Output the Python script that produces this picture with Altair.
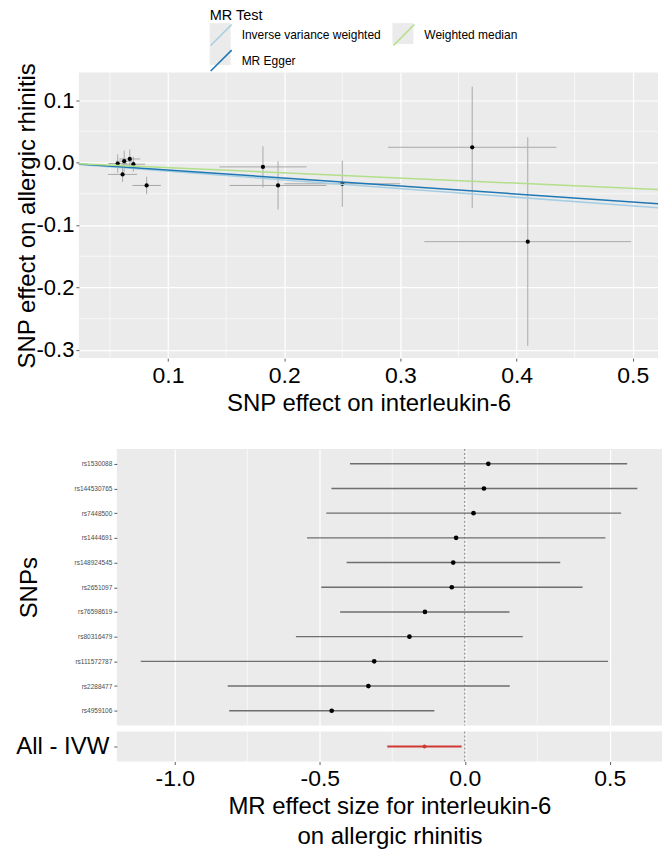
import altair as alt
import pandas as pd

FONT = "Liberation Sans"
MINUS_FIX = "replace(format(datum.value, '.1f'), '\u2212', '-')"

# ---------------- scatter plot data (per-SNP effects) ----------------
snp_beta_exposure = [0.0567, 0.0623, 0.0671, 0.0702, 0.0609, 0.0816, 0.1817, 0.1947, 0.2500, 0.3618, 0.4096]
snp_beta_outcome = [-0.0016, 0.0021, 0.0057, -0.0027, -0.0190, -0.0367, -0.0070, -0.0367, -0.0340, 0.0244, -0.1266]
snp_se_exposure = [0.0080, 0.0070, 0.0090, 0.0100, 0.0125, 0.0123, 0.0375, 0.0417, 0.0500, 0.0725, 0.0890]
snp_se_outcome = [0.0147, 0.0170, 0.0150, 0.0120, 0.0120, 0.0140, 0.0330, 0.0386, 0.0370, 0.0970, 0.1670]

# MR methods
methods = ["Inverse variance weighted", "MR Egger", "Weighted median"]
method_colors = ["#a6cee3", "#1f78b4", "#b2df8a"]
method_intercept = [0.0, 0.0008, 0.0]
method_slope = [-0.139, -0.128, -0.0826]

scatter_x_domain = [0.0233, 0.5217]
scatter_y_domain = [-0.313, 0.144]
scatter_x_ticks = [0.1, 0.2, 0.3, 0.4, 0.5]
scatter_x_minor = [0.05, 0.15, 0.25, 0.35, 0.45]
scatter_y_ticks = [-0.3, -0.2, -0.1, 0.0, 0.1]
scatter_y_minor = [-0.25, -0.15, -0.05, 0.05]

# ---------------- forest plot data ----------------
forest_snps = ["rs1530088", "rs144530765", "rs7448500", "rs1444691", "rs148924545",
               "rs2651097", "rs76598619", "rs80316479", "rs111572787", "rs2288477", "rs4959106"]
forest_b = [0.081, 0.066, 0.030, -0.030, -0.040, -0.045, -0.1375, -0.191, -0.3125, -0.3325, -0.459]
forest_lo = [-0.396, -0.460, -0.4775, -0.544, -0.4075, -0.495, -0.430, -0.5825, -1.1175, -0.8175, -0.8125]
forest_hi = [0.560, 0.595, 0.539, 0.485, 0.329, 0.406, 0.154, 0.200, 0.494, 0.155, -0.105]

ivw_label = ["All - IVW"]
ivw_b = [-0.139]
ivw_lo = [-0.2675]
ivw_hi = [-0.011]

forest_x_domain = [-1.2, 0.68]
forest_x_ticks = [-1.0, -0.5, 0.0, 0.5]
forest_x_minor = [-0.75, -0.25, 0.25]
null_effect = [0.0]

# ---------------- build tables ----------------
sc = pd.DataFrame({
    "bx": snp_beta_exposure, "by": snp_beta_outcome,
    "sx": snp_se_exposure, "sy": snp_se_outcome,
})
sc["bx_lo"] = sc.bx - sc.sx
sc["bx_hi"] = sc.bx + sc.sx
sc["by_lo"] = sc.by - sc.sy
sc["by_hi"] = sc.by + sc.sy

KEY_SUFFIX = "|key"
key_domain = [m + KEY_SUFFIX for m in methods]

line_rows = []
for m, a, b in zip(methods, method_intercept, method_slope):
    for xv in scatter_x_domain:
        line_rows.append({"method": m, "key": m + KEY_SUFFIX, "x": xv, "y": a + b * xv})
lines_df = pd.DataFrame(line_rows)

xs = alt.Scale(domain=scatter_x_domain, nice=False, zero=False)
ys = alt.Scale(domain=scatter_y_domain, nice=False, zero=False)

x_axis = alt.Axis(values=scatter_x_ticks, labelExpr=MINUS_FIX, title="SNP effect on interleukin-6",
                  labelFontSize=23, titleFontSize=24, labelPadding=3, titlePadding=4)
y_axis = alt.Axis(values=scatter_y_ticks, labelExpr=MINUS_FIX, title="SNP effect on allergic rhinitis",
                  labelFontSize=22, titleFontSize=24, labelPadding=2, titlePadding=-3)

minor_x = alt.Chart(pd.DataFrame({"v": scatter_x_minor})).mark_rule(color="white", strokeWidth=0.6).encode(
    x=alt.X("v:Q", scale=xs, axis=x_axis))
minor_y = alt.Chart(pd.DataFrame({"v": scatter_y_minor})).mark_rule(color="white", strokeWidth=0.6).encode(
    y=alt.Y("v:Q", scale=ys, axis=y_axis))

base = alt.Chart(sc)
err_y = base.mark_rule(color="#a9a9a9", strokeWidth=1).encode(
    x=alt.X("bx:Q", scale=xs), y=alt.Y("by_lo:Q", scale=ys), y2="by_hi:Q")
err_x = base.mark_rule(color="#a9a9a9", strokeWidth=1).encode(
    x=alt.X("bx_lo:Q", scale=xs), x2="bx_hi:Q", y=alt.Y("by:Q", scale=ys))
pts = base.mark_circle(color="black", size=18, opacity=1).encode(
    x=alt.X("bx:Q", scale=xs), y=alt.Y("by:Q", scale=ys))

LEG_COMMON = dict(
    title="MR Test", orient="none", legendX=199, legendY=-64, columns=2, direction="vertical",
    symbolSize=441, labelFontSize=12, titleFontSize=14.5, titleFontWeight="normal",
    labelFont=FONT, titleFont=FONT, labelOffset=9, titlePadding=0,
)

line_legend = alt.Legend(
    symbolType="M-1,1L1,-1", symbolStrokeWidth=1.6, labelColor="black", titleColor="black",
    columnPadding=8, rowPadding=-13, zindex=2, **LEG_COMMON,
)
# grey key squares drawn underneath the line legend (no label text of their own)
key_legend = alt.Legend(
    symbolType="square", symbolOpacity=1, symbolStrokeWidth=0, labelColor="transparent",
    titleColor="transparent", labelExpr="''", columnPadding=153, rowPadding=-9, zindex=1,
    **LEG_COMMON,
)

# invisible layer that only provides the grey key squares behind the legend lines
key_boxes = alt.Chart(lines_df).mark_point(opacity=0, filled=True).encode(
    x=alt.X("x:Q", scale=xs),
    y=alt.Y("y:Q", scale=ys),
    fill=alt.Fill("key:N", sort=key_domain,
                  scale=alt.Scale(domain=key_domain, range=["#ebebeb", "#ebebeb", "#ebebeb"]),
                  legend=key_legend),
)

mr_lines = alt.Chart(lines_df).mark_line(strokeWidth=1.5).encode(
    x=alt.X("x:Q", scale=xs),
    y=alt.Y("y:Q", scale=ys),
    color=alt.Color("method:N", sort=methods,
                    scale=alt.Scale(domain=methods, range=method_colors), legend=line_legend),
)

scatter = alt.layer(minor_x, minor_y, err_y, err_x, pts, key_boxes, mr_lines).properties(width=580, height=286)

# ---------------- forest plot ----------------
fd = pd.DataFrame({"snp": forest_snps, "b": forest_b, "lo": forest_lo, "hi": forest_hi})
ivd = pd.DataFrame({"snp": ivw_label, "b": ivw_b, "lo": ivw_lo, "hi": ivw_hi})

fxs = alt.Scale(domain=forest_x_domain, nice=False, zero=False)
hidden_x = alt.Axis(values=forest_x_ticks, labels=False, ticks=False, domain=False, title=None, grid=True)
shown_x = alt.Axis(values=forest_x_ticks, labelExpr=MINUS_FIX, labelFontSize=23,
                   title=["MR effect size for interleukin-6", "on allergic rhinitis"],
                   titleFontSize=24, titleLineHeight=30, labelPadding=3, titlePadding=4)


def minor_rules(axis):
    return alt.Chart(pd.DataFrame({"v": forest_x_minor})).mark_rule(color="white", strokeWidth=0.6).encode(
        x=alt.X("v:Q", scale=fxs, axis=axis))


def zero_line():
    return alt.Chart(pd.DataFrame({"v": null_effect})).mark_rule(
        color="#7a7a7a", strokeWidth=1, strokeDash=[2, 2]).encode(x=alt.X("v:Q", scale=fxs))


snp_y = alt.Y("snp:N", sort=forest_snps, scale=alt.Scale(type="point", padding=0.6),
              axis=alt.Axis(title="SNPs", titleFontSize=24, titlePadding=33, labelFontSize=6.5,
                            labelColor="#4d4d4d", labelPadding=2))
fb = alt.Chart(fd)
snp_panel = alt.layer(
    minor_rules(hidden_x),
    zero_line(),
    fb.mark_rule(color="#6e6e6e", strokeWidth=1.4).encode(x=alt.X("lo:Q", scale=fxs), x2="hi:Q", y=snp_y),
    fb.mark_circle(color="black", size=22, opacity=1).encode(x=alt.X("b:Q", scale=fxs), y=snp_y),
).properties(width=546, height=277)

ivw_y = alt.Y("snp:N", scale=alt.Scale(type="point", padding=0.6),
              axis=alt.Axis(title=None, labelFontSize=24, labelColor="black", labelPadding=5))
ib = alt.Chart(ivd)
ivw_panel = alt.layer(
    minor_rules(shown_x),
    zero_line(),
    ib.mark_rule(color="#cf3a36", strokeWidth=2.2).encode(x=alt.X("lo:Q", scale=fxs), x2="hi:Q", y=ivw_y),
    ib.mark_circle(color="#cf3a36", size=16, opacity=1).encode(x=alt.X("b:Q", scale=fxs), y=ivw_y),
).properties(width=546, height=30)

forest = alt.vconcat(snp_panel, ivw_panel, spacing=4)


def spacer():
    return alt.Chart(pd.DataFrame({"v": [0]})).mark_point(opacity=0).encode(
        x=alt.X("v:Q", axis=None), y=alt.Y("v:Q", axis=None)
    ).properties(width=1, height=1, view=alt.ViewBackground(fill="transparent", stroke="transparent"))


top_row = alt.hconcat(spacer(), scatter, spacing=0)
bottom_row = alt.hconcat(spacer(), forest, spacing=0)

chart = alt.vconcat(top_row, bottom_row, spacing=31).properties(
    padding={"left": 0, "top": 0, "right": 0, "bottom": 0}
).configure_view(
    fill="#EBEBEB", stroke=None
).configure_axis(
    gridColor="white", gridWidth=1.2, domain=False, tickColor="#333333", tickSize=3, tickWidth=0.8,
    labelColor="black", titleColor="black", labelFont=FONT, titleFont=FONT, titleFontWeight="normal",
).configure_text(font=FONT)

chart.save("out.html", embed_options={"renderer": "svg", "actions": False})
